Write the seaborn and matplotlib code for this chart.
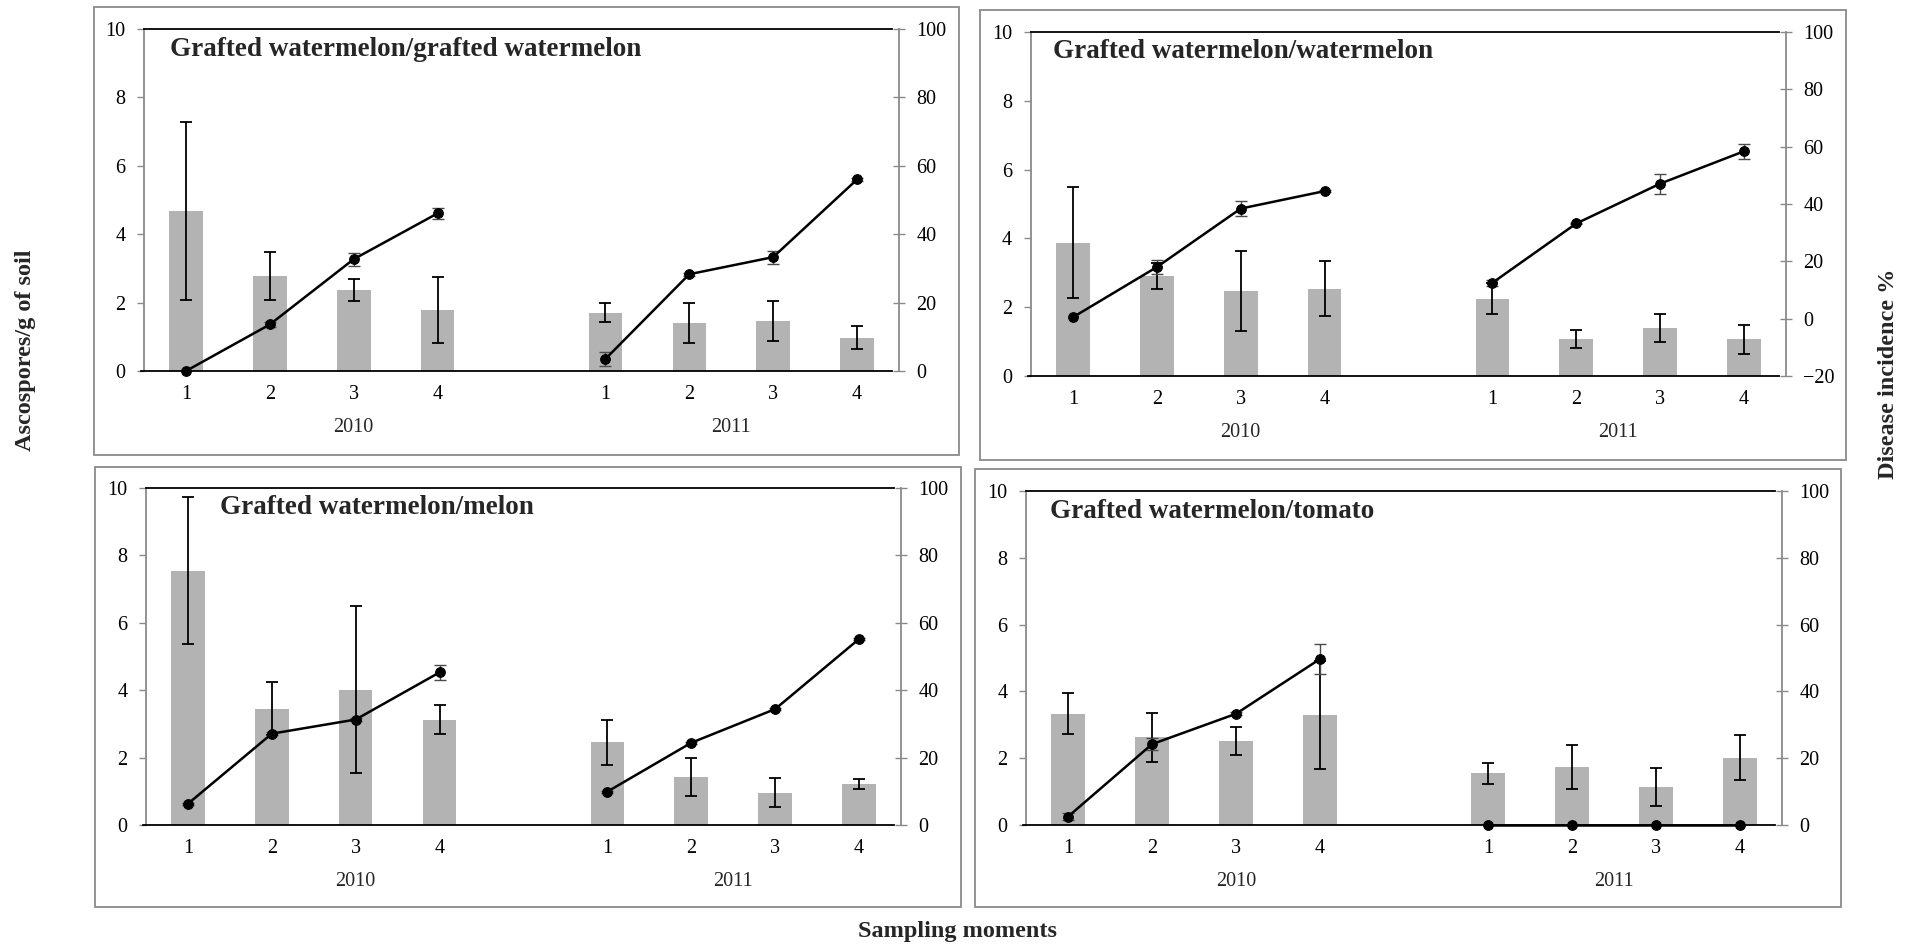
import numpy as np
import pandas as pd
import matplotlib
matplotlib.use("Agg")
import matplotlib.pyplot as plt
import matplotlib.transforms as mtransforms
from matplotlib.patches import Rectangle
import seaborn as sns

# ---------------------------------------------------------------- data
years = ["2010", "2011"]
moments = ["1", "2", "3", "4"]
titles = [
    "Grafted watermelon/grafted watermelon",
    "Grafted watermelon/watermelon",
    "Grafted watermelon/melon",
    "Grafted watermelon/tomato",
]

# Ascospores per g of soil (bars, left axis): 2010 moments 1-4, then 2011 moments 1-4
asc_gw_gw = [4.68, 2.79, 2.37, 1.78, 1.70, 1.40, 1.47, 0.97]
asc_gw_gw_err = [2.61, 0.70, 0.33, 0.96, 0.28, 0.59, 0.59, 0.34]
asc_gw_w = [3.88, 2.91, 2.47, 2.53, 2.24, 1.08, 1.39, 1.07]
asc_gw_w_err = [1.61, 0.37, 1.17, 0.80, 0.45, 0.27, 0.40, 0.42]
asc_gw_m = [7.55, 3.45, 4.02, 3.13, 2.46, 1.43, 0.95, 1.22]
asc_gw_m_err = [2.17, 0.79, 2.48, 0.43, 0.67, 0.56, 0.43, 0.15]
asc_gw_t = [3.33, 2.62, 2.52, 3.30, 1.55, 1.74, 1.14, 2.02]
asc_gw_t_err = [0.61, 0.72, 0.41, 1.61, 0.32, 0.65, 0.58, 0.67]

# Disease incidence % (line, right axis)
inc_gw_gw = [0.0, 13.6, 32.7, 46.1, 3.5, 28.3, 33.3, 56.0]
inc_gw_gw_err = [0.0, 0.8, 1.9, 1.7, 2.1, 0.5, 1.9, 0.5]
inc_gw_w = [0.5, 18.0, 38.4, 44.5, 12.5, 33.2, 47.1, 58.4]
inc_gw_w_err = [0.0, 2.4, 2.7, 0.3, 1.0, 0.3, 3.5, 2.7]
inc_gw_m = [6.3, 27.1, 31.3, 45.3, 9.9, 24.4, 34.4, 55.2]
inc_gw_m_err = [0.3, 0.5, 0.5, 2.2, 0.3, 0.3, 0.3, 0.3]
inc_gw_t = [2.5, 24.2, 33.3, 49.7, 0.0, 0.0, 0.0, 0.0]
inc_gw_t_err = [1.1, 1.7, 0.5, 4.4, 0.0, 0.0, 0.0, 0.0]

right_ylims = [(0, 100), (-20, 100), (0, 100), (0, 100)]

panel_data = [
    (asc_gw_gw, asc_gw_gw_err, inc_gw_gw, inc_gw_gw_err),
    (asc_gw_w, asc_gw_w_err, inc_gw_w, inc_gw_w_err),
    (asc_gw_m, asc_gw_m_err, inc_gw_m, inc_gw_m_err),
    (asc_gw_t, asc_gw_t_err, inc_gw_t, inc_gw_t_err),
]

# ---------------------------------------------------------------- layout (pixels)
W, H = 1921, 946
frames = [(94, 7, 959, 455), (980, 10, 1846, 460), (95, 467, 961, 907), (975, 469, 1841, 907)]
plot_areas = [(144, 29, 899, 371), (1031, 32, 1786, 376), (146, 488, 901, 825), (1026, 491, 1782, 825)]
title_dx = [26, 22, 74, 24]

sns.set_theme(style="white")
plt.rcParams["font.family"] = ["Liberation Serif", "DejaVu Serif"]

GRAY_AX = "#8a8a8a"
BAR_C = "#b3b3b3"
FS = 14.5

fig = plt.figure(figsize=(W / 100, H / 100), dpi=100)
fig.patch.set_facecolor("white")

# slot index of each sampling moment: one empty slot separates the two years
slots = [yi * 5 + mi for yi in range(len(years)) for mi in range(len(moments))]

for k in range(4):
    asc, asc_err, inc, inc_err = panel_data[k]
    fx0, fy0, fx1, fy1 = frames[k]
    fig.add_artist(Rectangle((fx0 / W, 1 - fy1 / H), (fx1 - fx0) / W, (fy1 - fy0) / H,
                             transform=fig.transFigure, fill=False, ec=GRAY_AX, lw=1.3))
    x0, y0, x1, y1 = plot_areas[k]
    ax = fig.add_axes([x0 / W, 1 - y1 / H, (x1 - x0) / W, (y1 - y0) / H])
    ax.set_facecolor("none")

    df = pd.DataFrame({
        "slot": slots,
        "year": [y for y in years for _ in moments],
        "asc": asc, "asc_err": asc_err, "inc": inc, "inc_err": inc_err,
    })

    sns.barplot(data=df, x="slot", y="asc", native_scale=True, width=0.4,
                color=BAR_C, saturation=1, errorbar=None, linewidth=0, ax=ax)
    ax.errorbar(df["slot"], df["asc"], yerr=df["asc_err"], fmt="none",
                ecolor="black", elinewidth=1.3, capsize=4.2, capthick=1.3, zorder=4)

    ax.set_xlim(-0.5, 8.5)
    ax.set_ylim(0, 10)
    ax.set_yticks(range(0, 11, 2))
    ax.set_xticks(slots)
    ax.set_xticklabels(moments * 2)
    ax.set_xlabel("")
    ax.set_ylabel("")
    ax.tick_params(axis="x", length=0, pad=10, labelsize=FS, colors="black")
    ax.tick_params(axis="y", direction="out", length=5, width=1, color=GRAY_AX,
                   pad=8.5, labelsize=FS, labelcolor="black", left=True)
    for side in ("top", "bottom"):
        ax.spines[side].set_color("black")
        ax.spines[side].set_linewidth(1.3)
    ax.spines["top"].set_bounds(-0.5, 8.42)
    ax.spines["bottom"].set_bounds(-0.53, 8.42)
    ax.spines["left"].set_color(GRAY_AX)
    ax.spines["left"].set_linewidth(1.3)
    ax.spines["right"].set_visible(False)
    ax.grid(False)

    ax2 = ax.twinx()
    sns.lineplot(data=df, x="slot", y="inc", units="year", estimator=None,
                 color="black", linewidth=1.8, marker="o", markersize=7,
                 markeredgecolor="black", legend=False, ax=ax2, zorder=5)
    for ln in ax2.lines:
        ln.set_clip_on(False)
    m = df["inc_err"] > 0
    ax2.errorbar(df.loc[m, "slot"], df.loc[m, "inc"], yerr=df.loc[m, "inc_err"], fmt="none",
                 ecolor="#4a4a4a", elinewidth=1.0, capsize=4.2, capthick=1.0, zorder=4)
    lo, hi = right_ylims[k]
    ax2.set_ylim(lo, hi)
    ax2.set_yticks(range(lo, hi + 1, 20))
    ax2.set_ylabel("")
    ax2.set_xlabel("")
    ax2.tick_params(axis="y", direction="inout", length=9, width=1, color=GRAY_AX,
                    pad=8.0, labelsize=FS, labelcolor="black", right=True)
    for side in ("top", "bottom", "left"):
        ax2.spines[side].set_visible(False)
    ax2.spines["right"].set_color(GRAY_AX)
    ax2.spines["right"].set_linewidth(1.3)
    ax2.grid(False)
    ax2.set_xlim(-0.5, 8.5)

    # year labels under each group of sampling moments
    h_px = y1 - y0
    trans = mtransforms.blended_transform_factory(ax.transData, ax.transAxes)
    for yi, yr in enumerate(years):
        xc = 2 if yi == 0 else 6.5
        ax.text(xc, -56 / h_px, yr, transform=trans, ha="center", va="center", fontsize=FS)

    ax2.text(title_dx[k] / (x1 - x0), 1 - 20 / h_px, titles[k], transform=ax.transAxes,
             ha="left", va="center", fontsize=19.5, fontweight="bold", zorder=6)

fig.text(26 / W, 1 - 350 / H, "Ascospores/g of soil", rotation=90, ha="center", va="center",
         fontsize=17.5, fontweight="bold")
fig.text(1889 / W, 1 - 374 / H, "Disease incidence %", rotation=90, ha="center", va="center",
         fontsize=17.5, fontweight="bold")
fig.text(958 / W, 1 - 931 / H, "Sampling moments", ha="center", va="center",
         fontsize=17.5, fontweight="bold")

fig.savefig("out.png", dpi=100, facecolor="white")
